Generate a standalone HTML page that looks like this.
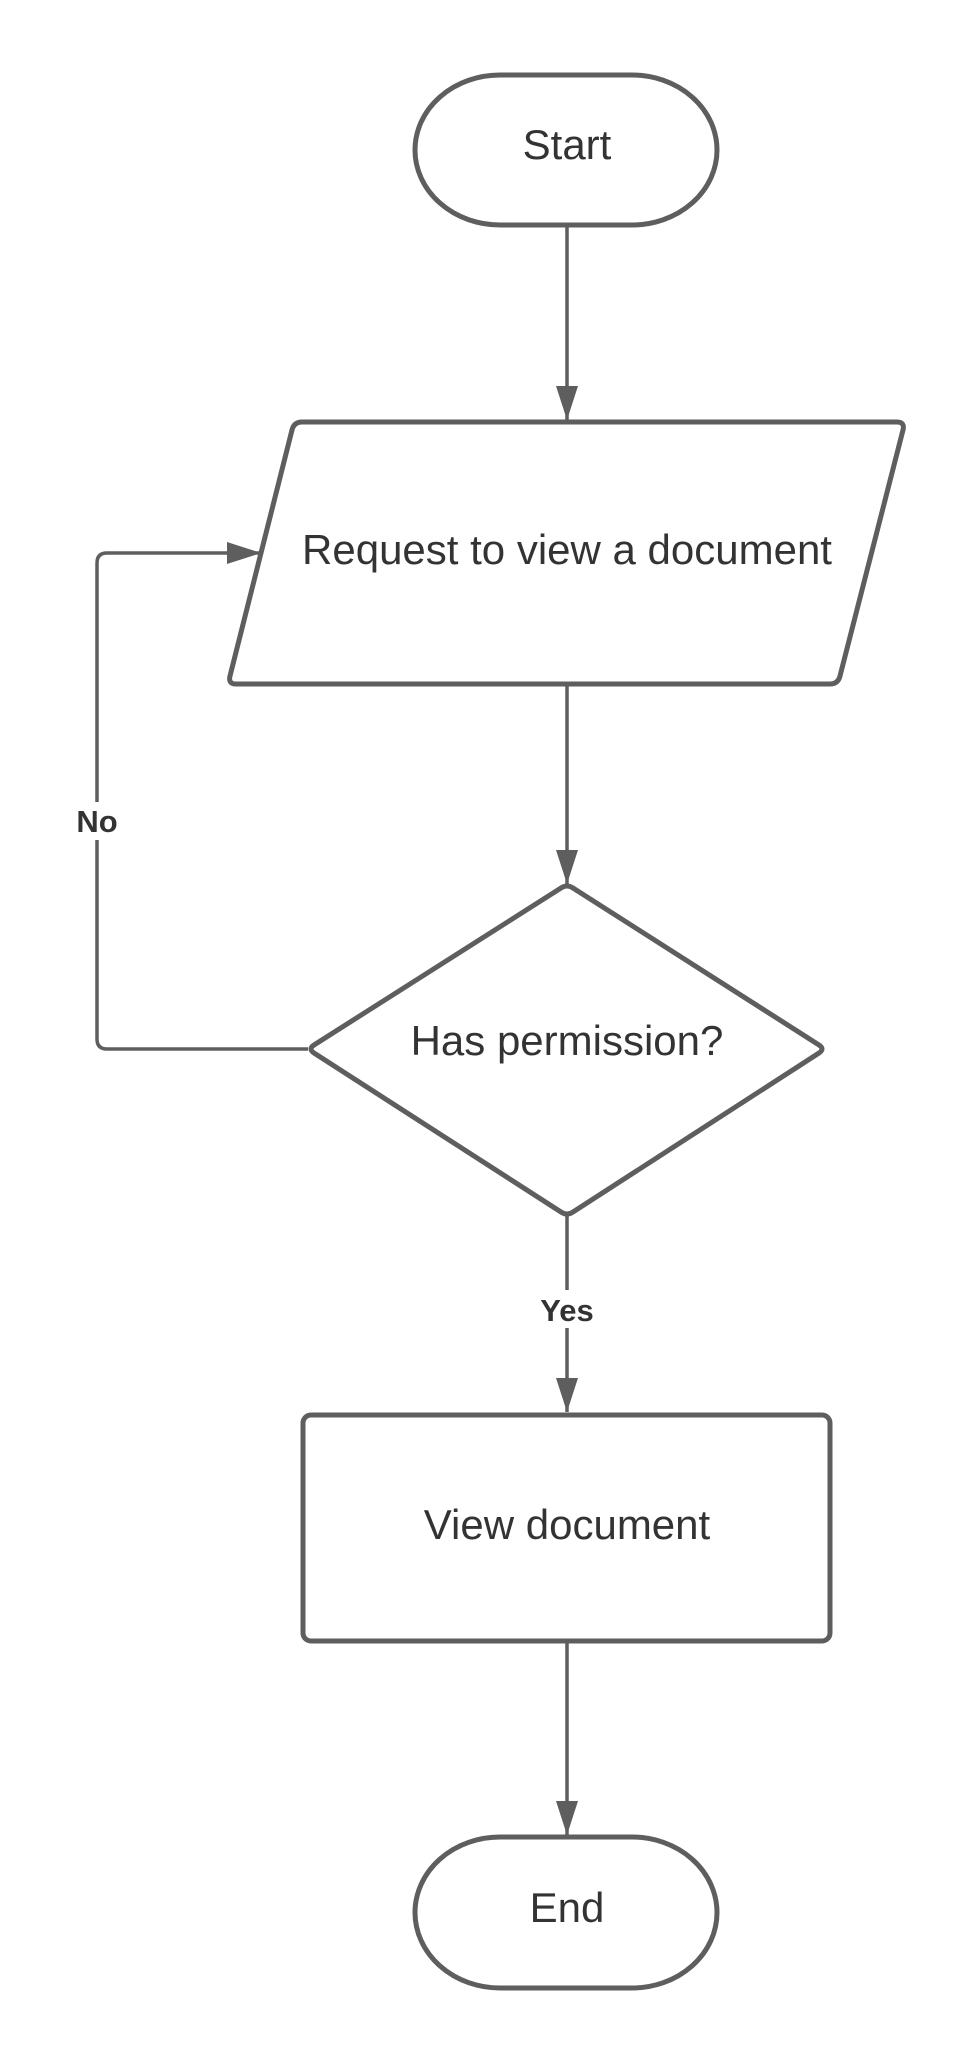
<!DOCTYPE html>
<html><head><meta charset="utf-8"><style>
html,body{margin:0;padding:0;background:#fff;}
svg{display:block;}
text{font-family:"Liberation Sans",Arial,sans-serif;fill:#333;}
</style></head><body>
<svg width="979" height="2063" viewBox="0 0 979 2063" xmlns="http://www.w3.org/2000/svg">
<defs>
<marker id="ah" markerWidth="34" markerHeight="22" refX="34" refY="11" orient="auto" markerUnits="userSpaceOnUse">
<path d="M0,0 L34,11 L0,22 Z" fill="#5e5e5e"/>
</marker>
</defs>
<g fill="none" stroke="#5e5e5e" stroke-width="3.5">
<line x1="567" y1="225" x2="567" y2="420" marker-end="url(#ah)"/>
<line x1="567" y1="684" x2="567" y2="884" marker-end="url(#ah)"/>
<line x1="567" y1="1216" x2="567" y2="1412" marker-end="url(#ah)"/>
<line x1="567" y1="1641" x2="567" y2="1835" marker-end="url(#ah)"/>
<path d="M308,1049 L107,1049 Q97,1049 97,1039 L97,563 Q97,553 107,553 L261,553" marker-end="url(#ah)"/>
</g>
<g fill="#fff" stroke="#5e5e5e" stroke-width="5" stroke-linejoin="round">
<path d="M500,75 L632,75 A85,75 0 0 1 632,225 L500,225 A85,75 0 0 1 500,75 Z"/>
<path d="M302,422 L897,422 Q905,422 903,430 L840,676 Q838,684 830,684 L236,684 Q228,684 230,676 L292,430 Q294,422 302,422 Z"/>
<path d="M561,888 Q567,884 573,888 L819,1045 Q825,1049 819,1053 L573,1212 Q567,1216 561,1212 L314,1053 Q308,1049 314,1045 Z"/>
<rect x="303" y="1415" width="527" height="226" rx="8"/>
<path d="M500,1837 L632,1837 A85,75.5 0 0 1 632,1988 L500,1988 A85,75.5 0 0 1 500,1837 Z"/>
</g>
<rect x="72" y="802" width="52" height="38" fill="#fff"/>
<rect x="533" y="1290" width="68" height="38" fill="#fff"/>
<g text-anchor="middle" font-size="42">
<text x="567" y="159">Start</text>
<text x="567" y="564">Request to view a document</text>
<text x="567" y="1055">Has permission?</text>
<text x="567" y="1539">View document</text>
<text x="567" y="1922">End</text>
</g>
<g text-anchor="middle" font-size="31" font-weight="bold">
<text x="97" y="832">No</text>
<text x="567" y="1321">Yes</text>
</g>
</svg>
</body></html>
